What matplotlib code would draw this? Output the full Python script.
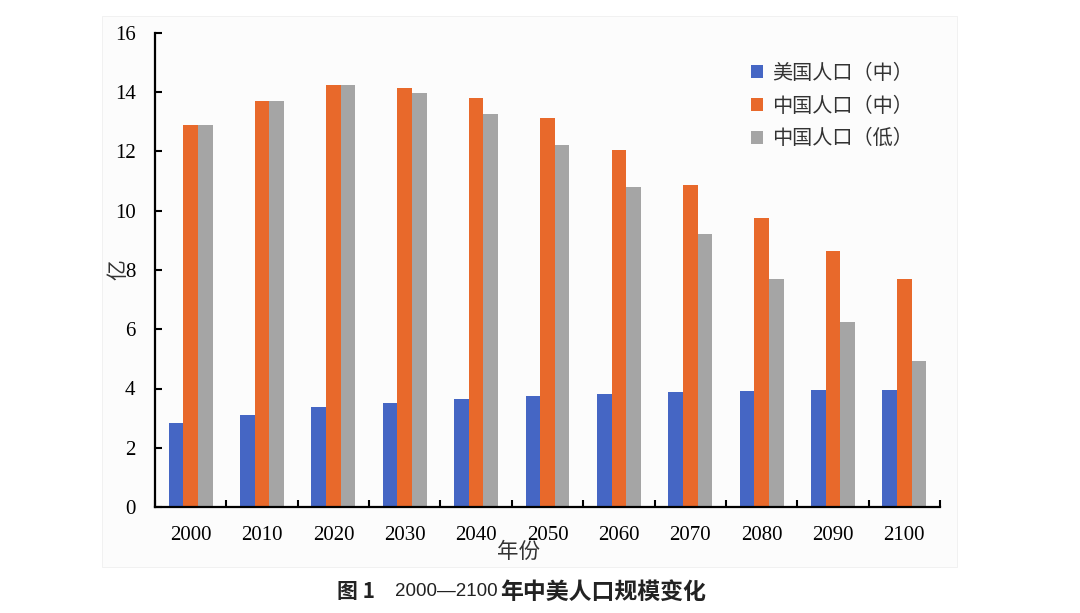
import matplotlib.pyplot as plt
from matplotlib.patches import Rectangle
import numpy as np

# 数据（单位：亿）
years = ['2000', '2010', '2020', '2030', '2040', '2050', '2060', '2070', '2080', '2090', '2100']
us_mid = [2.82, 3.11, 3.36, 3.52, 3.66, 3.75, 3.82, 3.87, 3.91, 3.94, 3.95]
cn_mid = [12.90, 13.69, 14.25, 14.16, 13.79, 13.14, 12.06, 10.87, 9.74, 8.64, 7.68]
cn_low = [12.90, 13.69, 14.25, 13.98, 13.25, 12.21, 10.80, 9.22, 7.69, 6.24, 4.93]
labels = ['美国人口（中）', '中国人口（中）', '中国人口（低）']

cjk = ['Noto Sans CJK SC', 'DejaVu Sans']
serif = ['Liberation Serif', 'DejaVu Serif']

fig = plt.figure(figsize=(10.8, 6.13), dpi=100)
W, H = 1080, 613

# 图片的浅色底
fig.patches.append(Rectangle((102 / W, 1 - 567 / H), (957 - 102) / W, (567 - 16) / H,
                             transform=fig.transFigure, facecolor='#fcfcfc',
                             edgecolor='#efefef', linewidth=0.6, zorder=0))

ax = fig.add_axes([155 / W, 1 - 507 / H, (940 - 155) / W, (507 - 33) / H])
ax.set_facecolor('none')
ax.set_zorder(2)

x = np.arange(len(years))
w = 0.205
ax.bar(x - w, us_mid, w, color='#4566c4', label=labels[0])
ax.bar(x, cn_mid, w, color='#e8692b', label=labels[1])
ax.bar(x + w, cn_low, w, color='#a5a5a5', label=labels[2])

ax.set_xlim(-0.5, len(years) - 0.5)
ax.set_ylim(0, 16)
ax.set_yticks(range(0, 17, 2))

ax.set_xticks(x)
ax.set_xticklabels(years, fontfamily=serif, fontsize=15)
ax.set_xticks(np.arange(-0.5, len(years)), minor=True)
ax.tick_params(axis='x', which='major', length=0, pad=14)
ax.tick_params(axis='x', which='minor', direction='in', length=5, width=1.5)
ax.tick_params(axis='y', direction='in', length=5, width=1.5, pad=14, labelsize=15)
for t in ax.get_yticklabels():
    t.set_fontfamily(serif)

for s in ['top', 'right']:
    ax.spines[s].set_visible(False)
for s in ['left', 'bottom']:
    ax.spines[s].set_linewidth(1.6)

fig.text(118 / W, 1 - 270 / H, '亿', rotation=90, zorder=3,
         ha='center', va='center', fontsize=15, family=cjk, color='#333333')
fig.text(518 / W, 1 - 552 / H, '年份', ha='center', va='center', zorder=3,
         fontsize=15.5, family=cjk, color='#333333')

leg = ax.legend(loc='upper left', bbox_to_anchor=(578 / (940 - 155), 0.975),
                frameon=False, prop={'family': cjk, 'size': 14.5},
                handlelength=0.6, handleheight=0.6, handletextpad=0.45,
                labelspacing=0.58)
for t in leg.get_texts():
    t.set_color('#333333')

# 图题
fig.text(337 / W, 1 - 592 / H, '图 1', ha='left', va='center',
         fontsize=15, fontweight='bold', family=cjk, color='#222222')
fig.text(395 / W, 1 - 592 / H, '2000—2100', ha='left', va='center',
         fontsize=13.5, family=['Liberation Sans', 'DejaVu Sans'], color='#222222')
fig.text(500 / W, 1 - 592 / H, '年中美人口规模变化', ha='left', va='center',
         fontsize=16.5, fontweight='bold', family=cjk, color='#222222')

fig.savefig('out.png', dpi=100)
